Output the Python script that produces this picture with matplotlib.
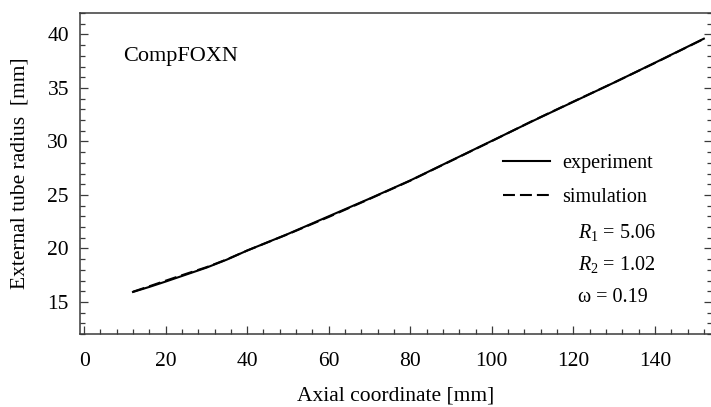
import matplotlib
matplotlib.use("Agg")
import matplotlib.pyplot as plt
from matplotlib.ticker import MultipleLocator

# Axial position [mm] and measured / simulated external radius [mm]
axial_mm = [12, 16, 20, 25, 30, 35, 40, 50, 60, 70, 80, 90, 100, 110, 120, 130, 140, 152]
radius_experiment = [15.93, 16.40, 16.90, 17.55, 18.20, 18.95, 19.80, 21.35, 23.00,
                     24.65, 26.35, 28.20, 30.05, 31.90, 33.70, 35.50, 37.35, 39.60]
radius_simulation = [15.95, 16.46, 16.98, 17.62, 18.24, 18.97, 19.80, 21.33, 22.94,
                     24.62, 26.33, 28.18, 30.03, 31.92, 33.72, 35.50, 37.33, 39.58]

sample_name = "CompFOXN"
param_lines = [r"$R_1$ = 5.06", r"$R_2$ = 1.02", "ω = 0.19"]

plt.rcParams["font.family"] = ["Liberation Serif", "DejaVu Serif"]
plt.rcParams["mathtext.fontset"] = "custom"
plt.rcParams["mathtext.rm"] = "Liberation Serif"
plt.rcParams["mathtext.it"] = "Liberation Serif:italic"
plt.rcParams["lines.scale_dashes"] = False

fig = plt.figure(figsize=(7.11, 4.07), dpi=100)
ax = fig.add_axes([80 / 711, 73 / 407, 632 / 711, 321 / 407])

ax.plot(axial_mm, radius_experiment, color="black", lw=1.5, label="experiment")
ax.plot(axial_mm, radius_simulation, color="black", lw=1.5, dashes=(8.6, 3.6),
        label="simulation")

ax.set_xlim(-1, 154)
ax.set_ylim(12, 42)

ax.xaxis.set_major_locator(MultipleLocator(20))
ax.xaxis.set_minor_locator(MultipleLocator(4))
ax.yaxis.set_major_locator(MultipleLocator(5))
ax.yaxis.set_minor_locator(MultipleLocator(1))

spine_color = "#3a3a3a"
for side, sp in ax.spines.items():
    sp.set_color(spine_color)
    sp.set_linewidth(1.1)

ax.tick_params(which="both", direction="in", color=spine_color, width=0.9,
               top=False, right=True, labelsize=15.5)
ax.tick_params(which="major", length=6)
ax.tick_params(which="minor", length=3.5)
ax.tick_params(axis="y", which="both", pad=8)
ax.tick_params(axis="x", which="both", pad=13)

ax.set_xlabel("Axial coordinate [mm]", fontsize=15.5, labelpad=11)
ax.set_ylabel("External tube radius  [mm]", fontsize=15.5, labelpad=13)

ax.text(0.068, 0.863, sample_name, transform=ax.transAxes, fontsize=16,
        ha="left", va="center")

leg = ax.legend(loc="upper left", bbox_to_anchor=(0.669, 0.56), frameon=False,
                fontsize=14.5, handlelength=2.35, handletextpad=0.6,
                labelspacing=0.72, borderpad=0, borderaxespad=0)

for i, txt in enumerate(param_lines):
    ax.text(0.788, 0.315 - i * 0.1, txt, transform=ax.transAxes,
            fontsize=14.5, ha="left", va="center")

fig.savefig("out.png", dpi=100)
